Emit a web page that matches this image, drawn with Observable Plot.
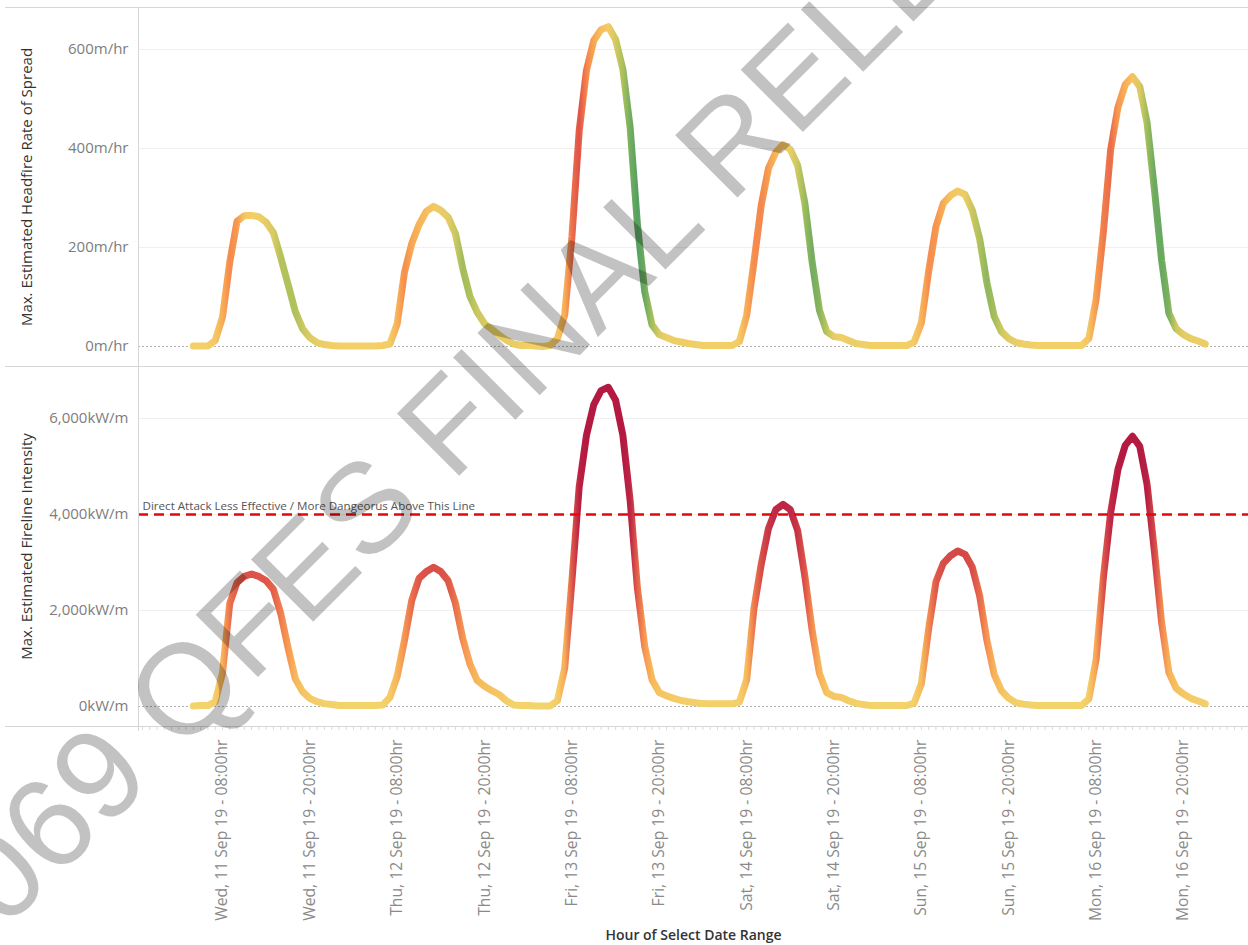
<!DOCTYPE html>
<html>
<head>
<meta charset="utf-8">
<script src="https://cdn.jsdelivr.net/npm/d3@7"></script>
<script src="https://cdn.jsdelivr.net/npm/@observablehq/plot@0.6"></script>
<style>
html, body { margin: 0; padding: 0; background: #fff; overflow: hidden; }
#wrap { position: relative; width: 1248px; height: 945px; overflow: hidden; font-family: "Open Sans", sans-serif; }
#topPanel { position: absolute; left: 0; top: 0; }
#botPanel { position: absolute; left: 0; top: 366px; }
.hl { position: absolute; height: 1px; background: #d6d6d6; }
.vl { position: absolute; width: 1px; background: #d6d6d6; }
#wm { position: absolute; left: 0; top: 0; pointer-events: none; }
</style>
</head>
<body>
<div id="wrap">
  <div id="topPanel"></div>
  <div id="botPanel"></div>
  <div class="hl" style="left:5px; top:7px; width:1243px;"></div>
  <div class="hl" style="left:5px; top:366px; width:1243px;"></div>
  <div class="hl" style="left:5px; top:726px; width:1243px;"></div>
  <div class="vl" style="left:138px; top:7px; height:724px;"></div>
</div>
<script>
// ---------------- DATA ----------------
// hourly readings, first reading Wed 11 Sep 2019 04:00
const firstReading = "2019-09-11T04:00:00Z";

// Max. Estimated Headfire Rate of Spread (m/hr), one value per hour
const rateOfSpread = [
  1, 1, 1, 12, 59, 170, 253, 264, 265, 262, 251, 230, 180, 126, 71, 36, 18, 8, 4, 2,      // Wed 04-23
  1, 1, 1, 1, 1,                                                                          // Thu 00-04
  1, 2, 5, 46, 150, 208, 246, 273, 283, 275, 261, 228, 158, 101, 69, 46, 35, 23, 13,      // Thu 05-23
  5, 2, 2, 1,                                                                             // Fri 00-03
  0, 2, 16, 63, 222, 436, 558, 618, 640, 646, 620, 560, 442, 246, 111, 44, 24, 18, 12, 9, 6, 4, // Fri 04 - Sat 01
  2, 2, 2, 2, 2,                                                                          // Sat 02-06
  10, 63, 170, 285, 360, 392, 408, 398, 366, 289, 170, 73, 30, 20, 18, 12, 6, 4,          // Sat 07 - Sun 00
  2, 2, 2, 2, 2, 2,                                                                       // Sun 01-06
  9, 48, 152, 242, 289, 305, 314, 307, 275, 218, 129, 61, 30, 16, 8, 5, 3,                // Sun 07-23
  2, 2, 2, 2, 2, 2, 2,                                                                    // Mon 00-06
  16, 95, 232, 398, 483, 529, 545, 525, 452, 319, 174, 67, 36, 24, 16, 11, 5              // Mon 07-23
];

// Max. Estimated Fireline Intensity (kW/m), one value per hour
const firelineIntensity = [
  10, 20, 20, 100, 700, 2150, 2580, 2710, 2760, 2710, 2620, 2440, 1940, 1230, 580, 310, 170, 100, 60, 40,
  20, 20, 20, 20, 20,
  20, 30, 190, 630, 1380, 2210, 2670, 2810, 2900, 2810, 2620, 2150, 1420, 880, 540, 420, 330, 250, 120,
  30, 20, 20, 10,
  10, 10, 120, 790, 2620, 4580, 5650, 6290, 6580, 6650, 6380, 5650, 4290, 2460, 1250, 560, 290, 220, 170, 125, 100, 80,
  60, 55, 55, 55, 55,
  90, 560, 2040, 2960, 3710, 4100, 4210, 4100, 3670, 2710, 1580, 690, 290, 210, 190, 120, 70, 40,
  20, 20, 20, 20, 20, 20,
  70, 480, 1620, 2600, 2980, 3140, 3240, 3170, 2900, 2310, 1380, 670, 330, 170, 80, 50, 30,
  20, 20, 20, 20, 20, 20, 20,
  160, 980, 2690, 4040, 4940, 5440, 5630, 5420, 4630, 3250, 1750, 710, 380, 260, 170, 115, 55
];

const xTickTimes = [
  "2019-09-11T08:00:00Z", "2019-09-11T20:00:00Z",
  "2019-09-12T08:00:00Z", "2019-09-12T20:00:00Z",
  "2019-09-13T08:00:00Z", "2019-09-13T20:00:00Z",
  "2019-09-14T08:00:00Z", "2019-09-14T20:00:00Z",
  "2019-09-15T08:00:00Z", "2019-09-15T20:00:00Z",
  "2019-09-16T08:00:00Z", "2019-09-16T20:00:00Z"
];
const xTickLabels = [
  "Wed, 11 Sep 19 - 08:00hr", "Wed, 11 Sep 19 - 20:00hr",
  "Thu, 12 Sep 19 - 08:00hr", "Thu, 12 Sep 19 - 20:00hr",
  "Fri, 13 Sep 19 - 08:00hr", "Fri, 13 Sep 19 - 20:00hr",
  "Sat, 14 Sep 19 - 08:00hr", "Sat, 14 Sep 19 - 20:00hr",
  "Sun, 15 Sep 19 - 08:00hr", "Sun, 15 Sep 19 - 20:00hr",
  "Mon, 16 Sep 19 - 08:00hr", "Mon, 16 Sep 19 - 20:00hr"
];
const xDomainLimits = ["2019-09-10T20:28:00Z", "2019-09-17T04:56:00Z"];

const rosTicks = [0, 200, 400, 600];
const fiTicks = [0, 2000, 4000, 6000];
const rosTitle = "Max. Estimated Headfire Rate of Spread";
const fiTitle = "Max. Estimated Fireline Intensity";
const xTitle = "Hour of Select Date Range";
const thresholdValue = 4000;
const thresholdLabel = "Direct Attack Less Effective / More Dangeorus Above This Line";
const watermarkText = "069 QFES FINAL RELEASE";

// ---------------- BUILD ----------------
const t0 = Date.parse(firstReading);
const rosData = rateOfSpread.map((v, i) => ({
  time: new Date(t0 + i * 3600e3), value: v, change: i ? v - rateOfSpread[i - 1] : 0
}));
const fiData = firelineIntensity.map((v, i) => ({ time: new Date(t0 + i * 3600e3), value: v }));
const xDomain = xDomainLimits.map(d => new Date(d));
const tickDates = xTickTimes.map(d => new Date(d));
const labelMap = new Map(tickDates.map((d, i) => [+d, xTickLabels[i]]));
const hourTicks = d3.utcHour.range(d3.utcHour.ceil(xDomain[0]), xDomain[1]);

// colour ramps
const rosColor = d3.scaleLinear()
  .domain([-220, -120, -50, 0, 50, 120, 220])
  .range(["#4a9c63", "#72ad5f", "#b5c35b", "#f3cf67", "#f8ab55", "#f4854c", "#df4f49"])
  .clamp(true);
const fiColor = d3.scaleLinear()
  .domain([0, 500, 1000, 2000, 2700, 3300, 4000, 5000])
  .range(["#f3d36b", "#f6bb5c", "#f8a155", "#ef7b4d", "#dd5449", "#d24647", "#c02a46", "#b41a41"])
  .clamp(true);

const fontFam = "'Open Sans', sans-serif";
const lineOpts = { x: "time", y: "value", strokeWidth: 7, strokeLinecap: "round", strokeLinejoin: "round" };
const titleOpts = { text: d => d, frameAnchor: "left", dx: -111, rotate: -90, textAnchor: "middle", fontSize: 15, fill: "#333", fontWeight: 500 };

const topPlot = Plot.plot({
  width: 1248, height: 367,
  marginTop: 7, marginBottom: 1, marginLeft: 138, marginRight: 0,
  style: { fontFamily: fontFam, background: "transparent", overflow: "visible" },
  x: { type: "utc", domain: xDomain, axis: null },
  y: { domain: [-40.4, 684.8], axis: null },
  marks: [
    Plot.ruleY(rosTicks.filter(d => d !== 0), { stroke: "#efefef", strokeWidth: 1 }),
    Plot.ruleY([0], { stroke: "#b0b0b0", strokeDasharray: "2,2" }),
    Plot.axisY(rosTicks, { tickSize: 0, tickPadding: 10, tickFormat: d => d + "m/hr", fontSize: 15, fill: "#7d7d7d", label: null }),
    Plot.text([rosTitle], titleOpts),
    Plot.line(rosData, { ...lineOpts, stroke: "url(#gradROS)" })
  ]
});

const botPlot = Plot.plot({
  width: 1248, height: 579,
  marginTop: 0, marginBottom: 219, marginLeft: 138, marginRight: 0,
  style: { fontFamily: fontFam, background: "transparent", overflow: "visible" },
  x: { type: "utc", domain: xDomain, axis: null },
  y: { domain: [-416.7, 7083.3], axis: null },
  marks: [
    Plot.ruleY(fiTicks.filter(d => d !== 0), { stroke: "#efefef", strokeWidth: 1 }),
    Plot.ruleY([0], { stroke: "#b0b0b0", strokeDasharray: "2,2" }),
    Plot.axisY(fiTicks, { tickSize: 0, tickPadding: 10, tickFormat: d => d3.format(",")(d) + "kW/m", fontSize: 15, fill: "#7d7d7d", label: null }),
    Plot.text([fiTitle], titleOpts),
    Plot.axisX(hourTicks, { tickSize: 4, stroke: "#dadada", tickFormat: () => "", label: null }),
    Plot.axisX(tickDates, { tickSize: 0, tickPadding: 13, tickRotate: -90, tickFormat: d => labelMap.get(+d), fontSize: 15.7, fill: "#8a8a8a", label: null }),
    Plot.text([xTitle], { text: d => d, frameAnchor: "bottom", dy: 213, fontSize: 14, fill: "#333", fontWeight: 600, lineAnchor: "bottom" }),
    Plot.line(fiData, { ...lineOpts, stroke: "url(#gradFI)" }),
    Plot.ruleY([thresholdValue], { stroke: "#e8060b", strokeWidth: 2.5, strokeDasharray: "10,6" }),
    Plot.text([{ v: thresholdValue, t: thresholdLabel }], { y: "v", text: "t", frameAnchor: "left", dx: 4, dy: -4, lineAnchor: "bottom", textAnchor: "start", fontSize: 11.6, fill: "#555" })
  ]
});

document.getElementById("topPanel").appendChild(topPlot);
document.getElementById("botPanel").appendChild(botPlot);

// gradient along the line: stop at each reading's x, coloured by its value
function addGradient(plot, id, data, colorOf) {
  const svg = plot.tagName.toLowerCase() === "svg" ? plot : plot.querySelector("svg");
  const sx = plot.scale("x");
  const xf = sx.apply ? (v => sx.apply(v)) : d3.scaleUtc(sx.domain, sx.range);
  const ns = "http://www.w3.org/2000/svg";
  const defs = document.createElementNS(ns, "defs");
  const lg = document.createElementNS(ns, "linearGradient");
  lg.setAttribute("id", id);
  lg.setAttribute("gradientUnits", "userSpaceOnUse");
  const xs = data.map(d => xf(d.time));
  const xa = xs[0], xb = xs[xs.length - 1];
  lg.setAttribute("x1", xa); lg.setAttribute("x2", xb);
  lg.setAttribute("y1", 0); lg.setAttribute("y2", 0);
  data.forEach((d, i) => {
    const s = document.createElementNS(ns, "stop");
    s.setAttribute("offset", (xs[i] - xa) / (xb - xa));
    s.setAttribute("stop-color", colorOf(d));
    lg.appendChild(s);
  });
  defs.appendChild(lg);
  svg.insertBefore(defs, svg.firstChild);
  svg.querySelectorAll('g[aria-label="line"] path').forEach(p => p.setAttribute("stroke", `url(#${id})`));
}
addGradient(topPlot, "gradROS", rosData, d => rosColor(d.change));
addGradient(botPlot, "gradFI", fiData, d => fiColor(d.value));

// watermark overlay
const ns = "http://www.w3.org/2000/svg";
const wm = document.createElementNS(ns, "svg");
wm.setAttribute("id", "wm");
wm.setAttribute("width", 1248);
wm.setAttribute("height", 945);
const wt = document.createElementNS(ns, "text");
wt.setAttribute("transform", "translate(4,931) rotate(-45)");
wt.setAttribute("font-family", "'Liberation Sans', sans-serif");
wt.setAttribute("font-size", 128);
wt.setAttribute("fill", "#000");
wt.setAttribute("fill-opacity", 0.24);
wt.textContent = watermarkText;
wm.appendChild(wt);
document.getElementById("wrap").appendChild(wm);
</script>
</body>
</html>
